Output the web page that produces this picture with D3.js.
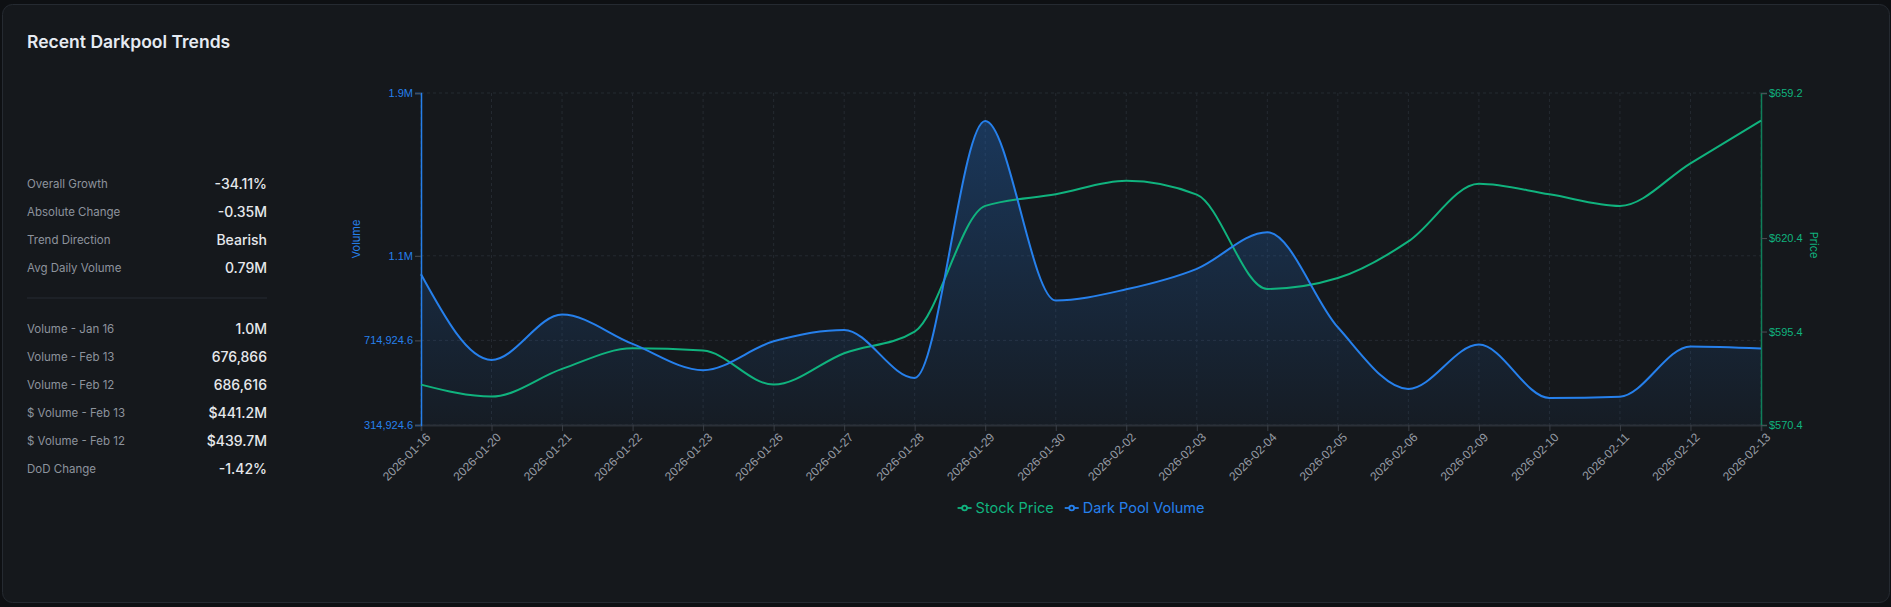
<!DOCTYPE html>
<html>
<head>
<meta charset="utf-8">
<script src="https://cdn.jsdelivr.net/npm/d3@7"></script>
<style>
  html, body { margin: 0; padding: 0; background: #0e1013; }
  svg { display: block; font-family: Inter, "Noto Sans", sans-serif; }
</style>
</head>
<body>
<svg id="chart"></svg>
<script>
// data
var dates = ['2026-01-16', '2026-01-20', '2026-01-21', '2026-01-22', '2026-01-23', '2026-01-26',
  '2026-01-27', '2026-01-28', '2026-01-29', '2026-01-30', '2026-02-02', '2026-02-03', '2026-02-04',
  '2026-02-05', '2026-02-06', '2026-02-09', '2026-02-10', '2026-02-11', '2026-02-12', '2026-02-13'];
var volume = [1027267, 622600, 837000, 698300, 574300, 710700, 764600, 537400, 1752100, 903300,
  956300, 1053400, 1226600, 776900, 485300, 695000, 442700, 448900, 686616, 676866];
var price = [581.2, 578.0, 585.4, 590.9, 590.3, 581.2, 589.6, 595.4, 629.0, 632.1,
  635.7, 632.0, 606.8, 609.7, 619.5, 634.9, 632.1, 629.0, 640.4, 651.8];
var volTicks = [314924.6, 714924.6, 1114924.6, 1884600];
var priceTicks = [570.4, 595.4, 620.4, 659.2];
var statLabels = ['Overall Growth', 'Absolute Change', 'Trend Direction', 'Avg Daily Volume'];
var statValues = ['-34.11%', '-0.35M', 'Bearish', '0.79M'];
var dayLabels = ['Volume - Jan 16', 'Volume - Feb 13', 'Volume - Feb 12', '$ Volume - Feb 13', '$ Volume - Feb 12', 'DoD Change'];
var dayValues = ['1.0M', '676,866', '686,616', '$441.2M', '$439.7M', '-1.42%'];
var legendNames = ['Stock Price', 'Dark Pool Volume'];

var W = 1891, H = 607;
var blue = '#2680ec', green = '#10b37e';
var margin = {top: 93, right: 130, bottom: 182, left: 421},
  width = W - margin.left - margin.right,
  height = H - margin.top - margin.bottom;

var svg = d3.select('#chart').attr('width', W).attr('height', H);

// card
svg.append('rect')
  .attr('x', 2.5).attr('y', 4.5).attr('width', W - 4).attr('height', 598)
  .attr('rx', 10).attr('fill', '#15181c').attr('stroke', '#252a31');

svg.append('text')
  .attr('x', 27).attr('y', 48)
  .attr('fill', '#e6ebf2').attr('font-size', 17.5).attr('font-weight', 600)
  .text('Recent Darkpool Trends');

// stats on the left
function statBlock(labels, values, y0) {
  labels.forEach(function(l, i) {
    var y = y0 + i * 28;
    svg.append('text').attr('x', 27).attr('y', y).attr('dy', '0.35em')
      .attr('fill', '#8d939c').attr('font-size', 11.5).text(l);
    svg.append('text').attr('x', 267).attr('y', y).attr('dy', '0.35em')
      .attr('text-anchor', 'end').attr('fill', '#e6e8ec').attr('font-size', 14)
      .attr('font-weight', 500).text(values[i]);
  });
}
statBlock(statLabels, statValues, 184);
svg.append('line').attr('x1', 27).attr('x2', 267).attr('y1', 298).attr('y2', 298)
  .attr('stroke', '#262b32');
statBlock(dayLabels, dayValues, 329);

// scales
var x = d3.scalePoint().domain(dates).range([0, width]);
var yVol = d3.scaleLinear().domain([volTicks[0], volTicks[volTicks.length - 1]]).range([height, 0]);
var yPrice = d3.scaleLinear().domain([priceTicks[0], priceTicks[priceTicks.length - 1]]).range([height, 0]);

var g = svg.append('g').attr('transform', 'translate(' + margin.left + ',' + margin.top + ')');

// grid
g.append('g').selectAll('line').data(dates).enter().append('line')
  .attr('x1', function(d) { return x(d); }).attr('x2', function(d) { return x(d); })
  .attr('y1', 0).attr('y2', height)
  .attr('stroke', '#252a31').attr('stroke-dasharray', '3 3');
g.append('g').selectAll('line').data(volTicks).enter().append('line')
  .attr('x1', 0).attr('x2', width)
  .attr('y1', function(d) { return yVol(d); }).attr('y2', function(d) { return yVol(d); })
  .attr('stroke', '#252a31').attr('stroke-dasharray', '3 3');

// gradient for area
var grad = svg.append('defs').append('linearGradient')
  .attr('id', 'volFill').attr('x1', 0).attr('y1', 0).attr('x2', 0).attr('y2', 1);
grad.append('stop').attr('offset', '0%').attr('stop-color', blue).attr('stop-opacity', 0.3);
grad.append('stop').attr('offset', '100%').attr('stop-color', blue).attr('stop-opacity', 0.04);

var area = d3.area()
  .x(function(d, i) { return x(dates[i]); })
  .y0(height)
  .y1(function(d) { return yVol(d); })
  .curve(d3.curveMonotoneX);
g.append('path').datum(volume).attr('d', area).attr('fill', 'url(#volFill)');

// axes
var xAxis = g.append('g')
  .attr('transform', 'translate(0,' + height + ')')
  .call(d3.axisBottom(x).tickSize(6).tickPadding(4));
xAxis.select('.domain').attr('stroke', '#2b3038').attr('stroke-width', 2);
xAxis.selectAll('.tick line').attr('stroke', '#3a3f47');
xAxis.selectAll('.tick text')
  .attr('fill', '#959ba4').attr('font-size', 12)
  .attr('text-anchor', 'end')
  .attr('transform', 'rotate(-45)')
  .attr('dx', '-0.2em').attr('dy', '0.5em');

var fmtVol = function(v) { return v >= 1e6 ? (v / 1e6).toFixed(1) + 'M' : d3.format(',.1f')(v); };
var yAxisL = g.append('g')
  .call(d3.axisLeft(yVol).tickValues(volTicks).tickFormat(fmtVol).tickSize(6).tickPadding(2));
yAxisL.select('.domain').attr('stroke', blue).attr('stroke-width', 1.5);
yAxisL.selectAll('.tick line').attr('stroke', '#4a4f57');
yAxisL.selectAll('.tick text').attr('fill', blue).attr('font-size', 11);

var yAxisR = g.append('g')
  .attr('transform', 'translate(' + width + ',0)')
  .call(d3.axisRight(yPrice).tickValues(priceTicks)
    .tickFormat(function(v) { return '$' + v.toFixed(1); }).tickSize(6).tickPadding(2));
yAxisR.select('.domain').attr('stroke', '#0f7f5a').attr('stroke-width', 1.5);
yAxisR.selectAll('.tick line').attr('stroke', '#4a4f57');
yAxisR.selectAll('.tick text').attr('fill', green).attr('font-size', 11);

// axis titles
svg.append('text')
  .attr('transform', 'translate(356,239) rotate(-90)')
  .attr('text-anchor', 'middle').attr('dy', '0.35em')
  .attr('fill', blue).attr('font-size', 11).text('Volume');
svg.append('text')
  .attr('transform', 'translate(1814,245) rotate(90)')
  .attr('text-anchor', 'middle').attr('dy', '0.35em')
  .attr('fill', green).attr('font-size', 11).text('Price');

// lines
var lineVol = d3.line()
  .x(function(d, i) { return x(dates[i]); })
  .y(function(d) { return yVol(d); })
  .curve(d3.curveMonotoneX);
var linePrice = d3.line()
  .x(function(d, i) { return x(dates[i]); })
  .y(function(d) { return yPrice(d); })
  .curve(d3.curveMonotoneX);

g.append('path').datum(price).attr('d', linePrice)
  .attr('fill', 'none').attr('stroke', green).attr('stroke-width', 2);
g.append('path').datum(volume).attr('d', lineVol)
  .attr('fill', 'none').attr('stroke', blue).attr('stroke-width', 2);

// legend
var legendColors = [green, blue];
var legend = svg.append('g');
var lx = 0;
legendNames.forEach(function(name, i) {
  var item = legend.append('g').attr('transform', 'translate(' + lx + ',0)');
  item.append('line').attr('x1', 0).attr('x2', 14).attr('y1', 0).attr('y2', 0)
    .attr('stroke', legendColors[i]).attr('stroke-width', 1.8);
  item.append('circle').attr('cx', 7).attr('cy', 0).attr('r', 2.4)
    .attr('fill', '#15181c').attr('stroke', legendColors[i]).attr('stroke-width', 1.8);
  var t = item.append('text').attr('x', 18).attr('dy', '0.35em')
    .attr('fill', legendColors[i]).attr('font-size', 14.5).text(name);
  lx += 18 + t.node().getComputedTextLength() + 11;
});
var legendW = lx - 11;
legend.attr('transform', 'translate(' + (1081 - legendW / 2) + ',508)');
</script>
</body>
</html>
